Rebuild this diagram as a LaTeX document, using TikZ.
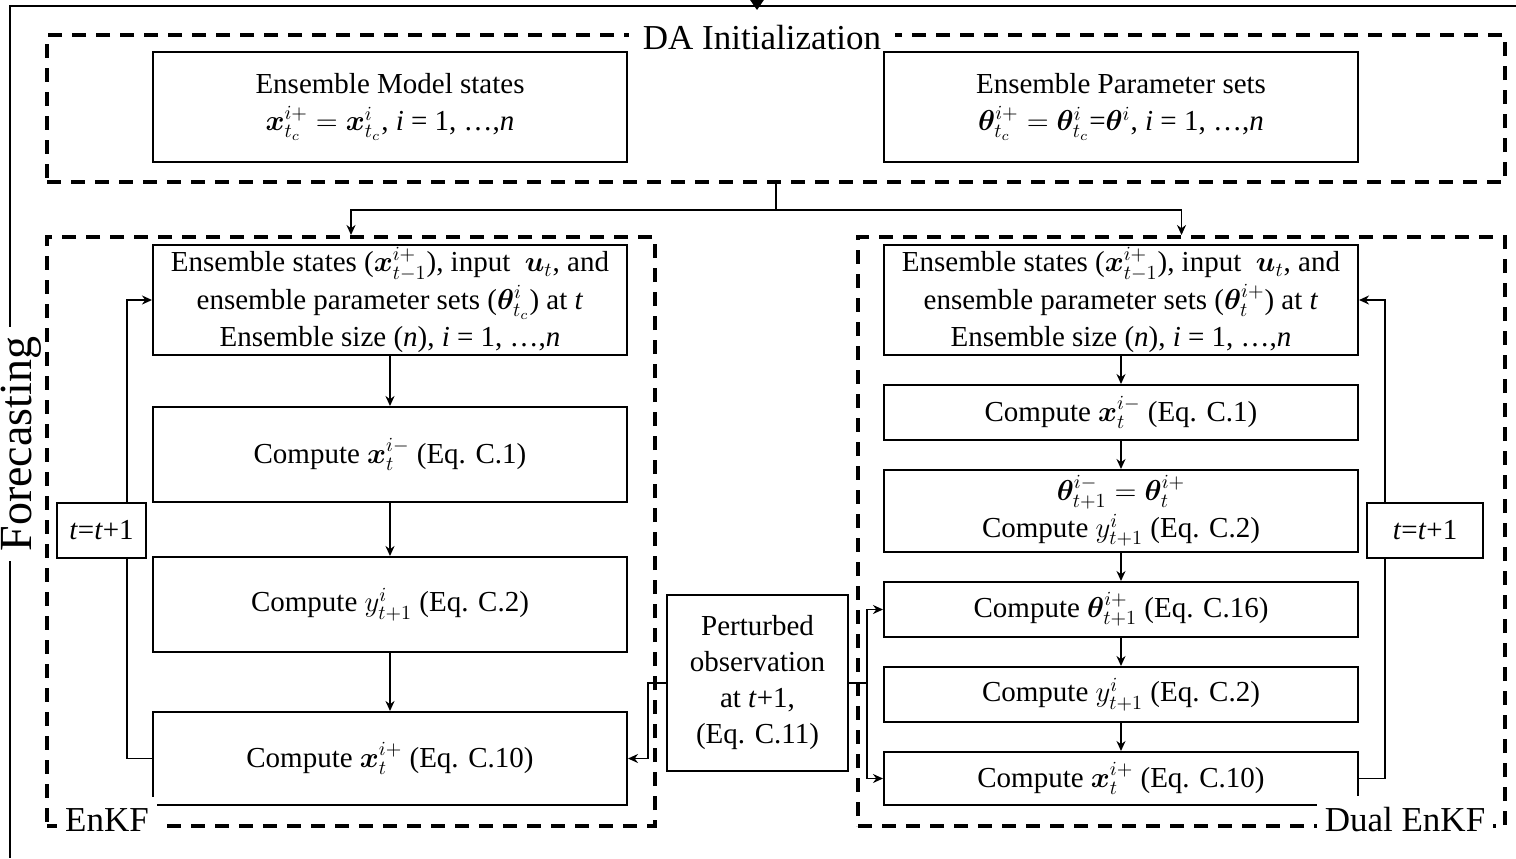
\documentclass[tikz,border=0pt]{standalone}
\usepackage{amsmath}
\usepackage{bm}
\usepackage{fontspec}
\setmainfont{Liberation Serif}
\usetikzlibrary{arrows.meta}
\begin{document}
\begin{tikzpicture}[x=0.5pt,y=-0.5pt,
  box/.style={draw, line width=1pt, inner sep=0pt, align=center, fill=white, font=\fontsize{14.5}{18.8}\selectfont},
  dbox/.style={draw, line width=2pt, dash pattern=on 7pt off 5pt, inner sep=0pt},
  lbl/.style={fill=white, font=\fontsize{17.5}{21}\selectfont, inner xsep=4pt, inner ysep=6pt},
  arr/.style={line width=0.9pt, -{Stealth[length=5pt,width=4.5pt]}},
  ln/.style={line width=0.9pt}]
\useasboundingbox (0,0) rectangle (1516,858);
% outer frame
\coordinate (fa) at (1516,6);
\coordinate (fb) at (10,6);
\coordinate (fc) at (10,858);
\draw[line width=1pt] (fa) -- (fb) -- (fc);
\coordinate (tin) at (757,-20);
\coordinate (tout) at (757,10);
\draw[ln, -{Triangle[length=6pt,width=8pt]}] (tin) -- (tout);
\node[fill=white, rotate=90, font=\fontsize{23}{27}\selectfont, inner sep=5pt] (fcst) at (21,444) {Forecasting};
% DA initialization
\node[dbox, minimum width=729pt, minimum height=73.5pt] (da) at (776,108.5) {};
\node[lbl, inner xsep=7pt, inner ysep=3pt] (dalbl) at (762,38) {DA Initialization};
\node[box, minimum width=237pt, minimum height=55pt] (m1) at (390,107)
  {Ensemble Model states\\ $\bm{x}^{i+}_{t_c}=\bm{x}^{i}_{t_c}$, \textit{i} = 1, …,\textit{n}};
\node[box, minimum width=237pt, minimum height=55pt] (p1) at (1121,107)
  {Ensemble Parameter sets\\ $\bm{\theta}^{i+}_{t_c}=\bm{\theta}^{i}_{t_c}$=$\bm{\theta}^{i}$, \textit{i} = 1, …,\textit{n}};
% containers
\node[dbox, minimum width=304pt, minimum height=294.5pt] (enkf) at (351,531.5) {};
\node[dbox, minimum width=323.5pt, minimum height=294.5pt] (dual) at (1181.5,531.5) {};
\coordinate (split) at (776,210);
\draw[ln] (da.south) -- (split);
\draw[arr] (split) -| (enkf.north);
\draw[arr] (split) -| (dual.north);
% EnKF boxes
\node[box, minimum width=237pt, minimum height=55pt] (b1) at (390,300)
  {Ensemble states ($\bm{x}^{i+}_{t-1}$), input\ \ $\bm{u}_t$, and\\
   ensemble parameter sets ($\bm{\theta}^{i}_{t_c}$) at \textit{t}\\
   Ensemble size (\textit{n}), \textit{i} = 1, …,\textit{n}};
\node[box, minimum width=237pt, minimum height=47.5pt] (b2) at (390,454.5)
  {Compute $\bm{x}^{i-}_{t}$ (Eq. C.1)};
\node[box, minimum width=237pt, minimum height=47.5pt] (b3) at (390,604.5)
  {Compute $y^{i}_{t+1}$ (Eq. C.2)};
\node[box, minimum width=237pt, minimum height=46.5pt] (b4) at (390,758.5)
  {Compute $\bm{x}^{i+}_{t}$ (Eq. C.10)};
\draw[arr] (b1) -- (b2);
\draw[arr] (b2) -- (b3);
\draw[arr] (b3) -- (b4);
% Dual EnKF boxes
\node[box, minimum width=237pt, minimum height=55pt] (r1) at (1121,300)
  {Ensemble states ($\bm{x}^{i+}_{t-1}$), input\ \ $\bm{u}_t$, and\\
   ensemble parameter sets ($\bm{\theta}^{i+}_{t}$) at \textit{t}\\
   Ensemble size (\textit{n}), \textit{i} = 1, …,\textit{n}};
\node[box, minimum width=237pt, minimum height=27.5pt] (r2) at (1121,412.5)
  {Compute $\bm{x}^{i-}_{t}$ (Eq. C.1)};
\node[box, minimum width=237pt, minimum height=41pt] (r3) at (1121,511)
  {$\bm{\theta}^{i-}_{t+1}=\bm{\theta}^{i+}_{t}$\\ Compute $y^{i}_{t+1}$ (Eq. C.2)};
\node[box, minimum width=237pt, minimum height=27.5pt] (r4) at (1121,609.5)
  {Compute $\bm{\theta}^{i+}_{t+1}$ (Eq. C.16)};
\node[box, minimum width=237pt, minimum height=27.5pt] (r5) at (1121,694.5)
  {Compute $y^{i}_{t+1}$ (Eq. C.2)};
\node[box, minimum width=237pt, minimum height=26.5pt] (r6) at (1121,778.5)
  {Compute $\bm{x}^{i+}_{t}$ (Eq. C.10)};
\draw[arr] (r1) -- (r2);
\draw[arr] (r2) -- (r3);
\draw[arr] (r3) -- (r4);
\draw[arr] (r4) -- (r5);
\draw[arr] (r5) -- (r6);
% perturbed observation
\node[box, minimum width=90.5pt, minimum height=88pt, font=\fontsize{14.5}{18}\selectfont] (po) at (757.5,683)
  {Perturbed\\ observation\\ at \textit{t}+1,\\ (Eq. C.11)};
\coordinate (lc) at (648,0);
\coordinate (rc) at (867,0);
\draw[arr] (po.west) -- (po.west -| lc) -- (b4.east -| lc) -- (b4.east);
\draw[ln] (po.east) -- (po.east -| rc);
\draw[arr] (po.east -| rc) |- (r4.west);
\draw[arr] (po.east -| rc) |- (r6.west);
% loops
\coordinate (llx) at (127,0);
\coordinate (rlx) at (1385,0);
\draw[arr] (b4.west) -- (b4.west -| llx) -- (b1.west -| llx) -- (b1.west);
\draw[arr] (r6.east) -- (r6.east -| rlx) -- (r1.east -| rlx) -- (r1.east);
\node[box, minimum width=44.5pt, minimum height=27.5pt] (tl) at (101.5,530.5) {\textit{t}=\textit{t}+1};
\node[box, minimum width=58pt, minimum height=27.5pt] (tr) at (1425,530.5) {\textit{t}=\textit{t}+1};
% labels
\node[lbl] (enkflbl) at (107,820) {EnKF};
\node[lbl] (duallbl) at (1405,820) {Dual EnKF};
\end{tikzpicture}
\end{document}
